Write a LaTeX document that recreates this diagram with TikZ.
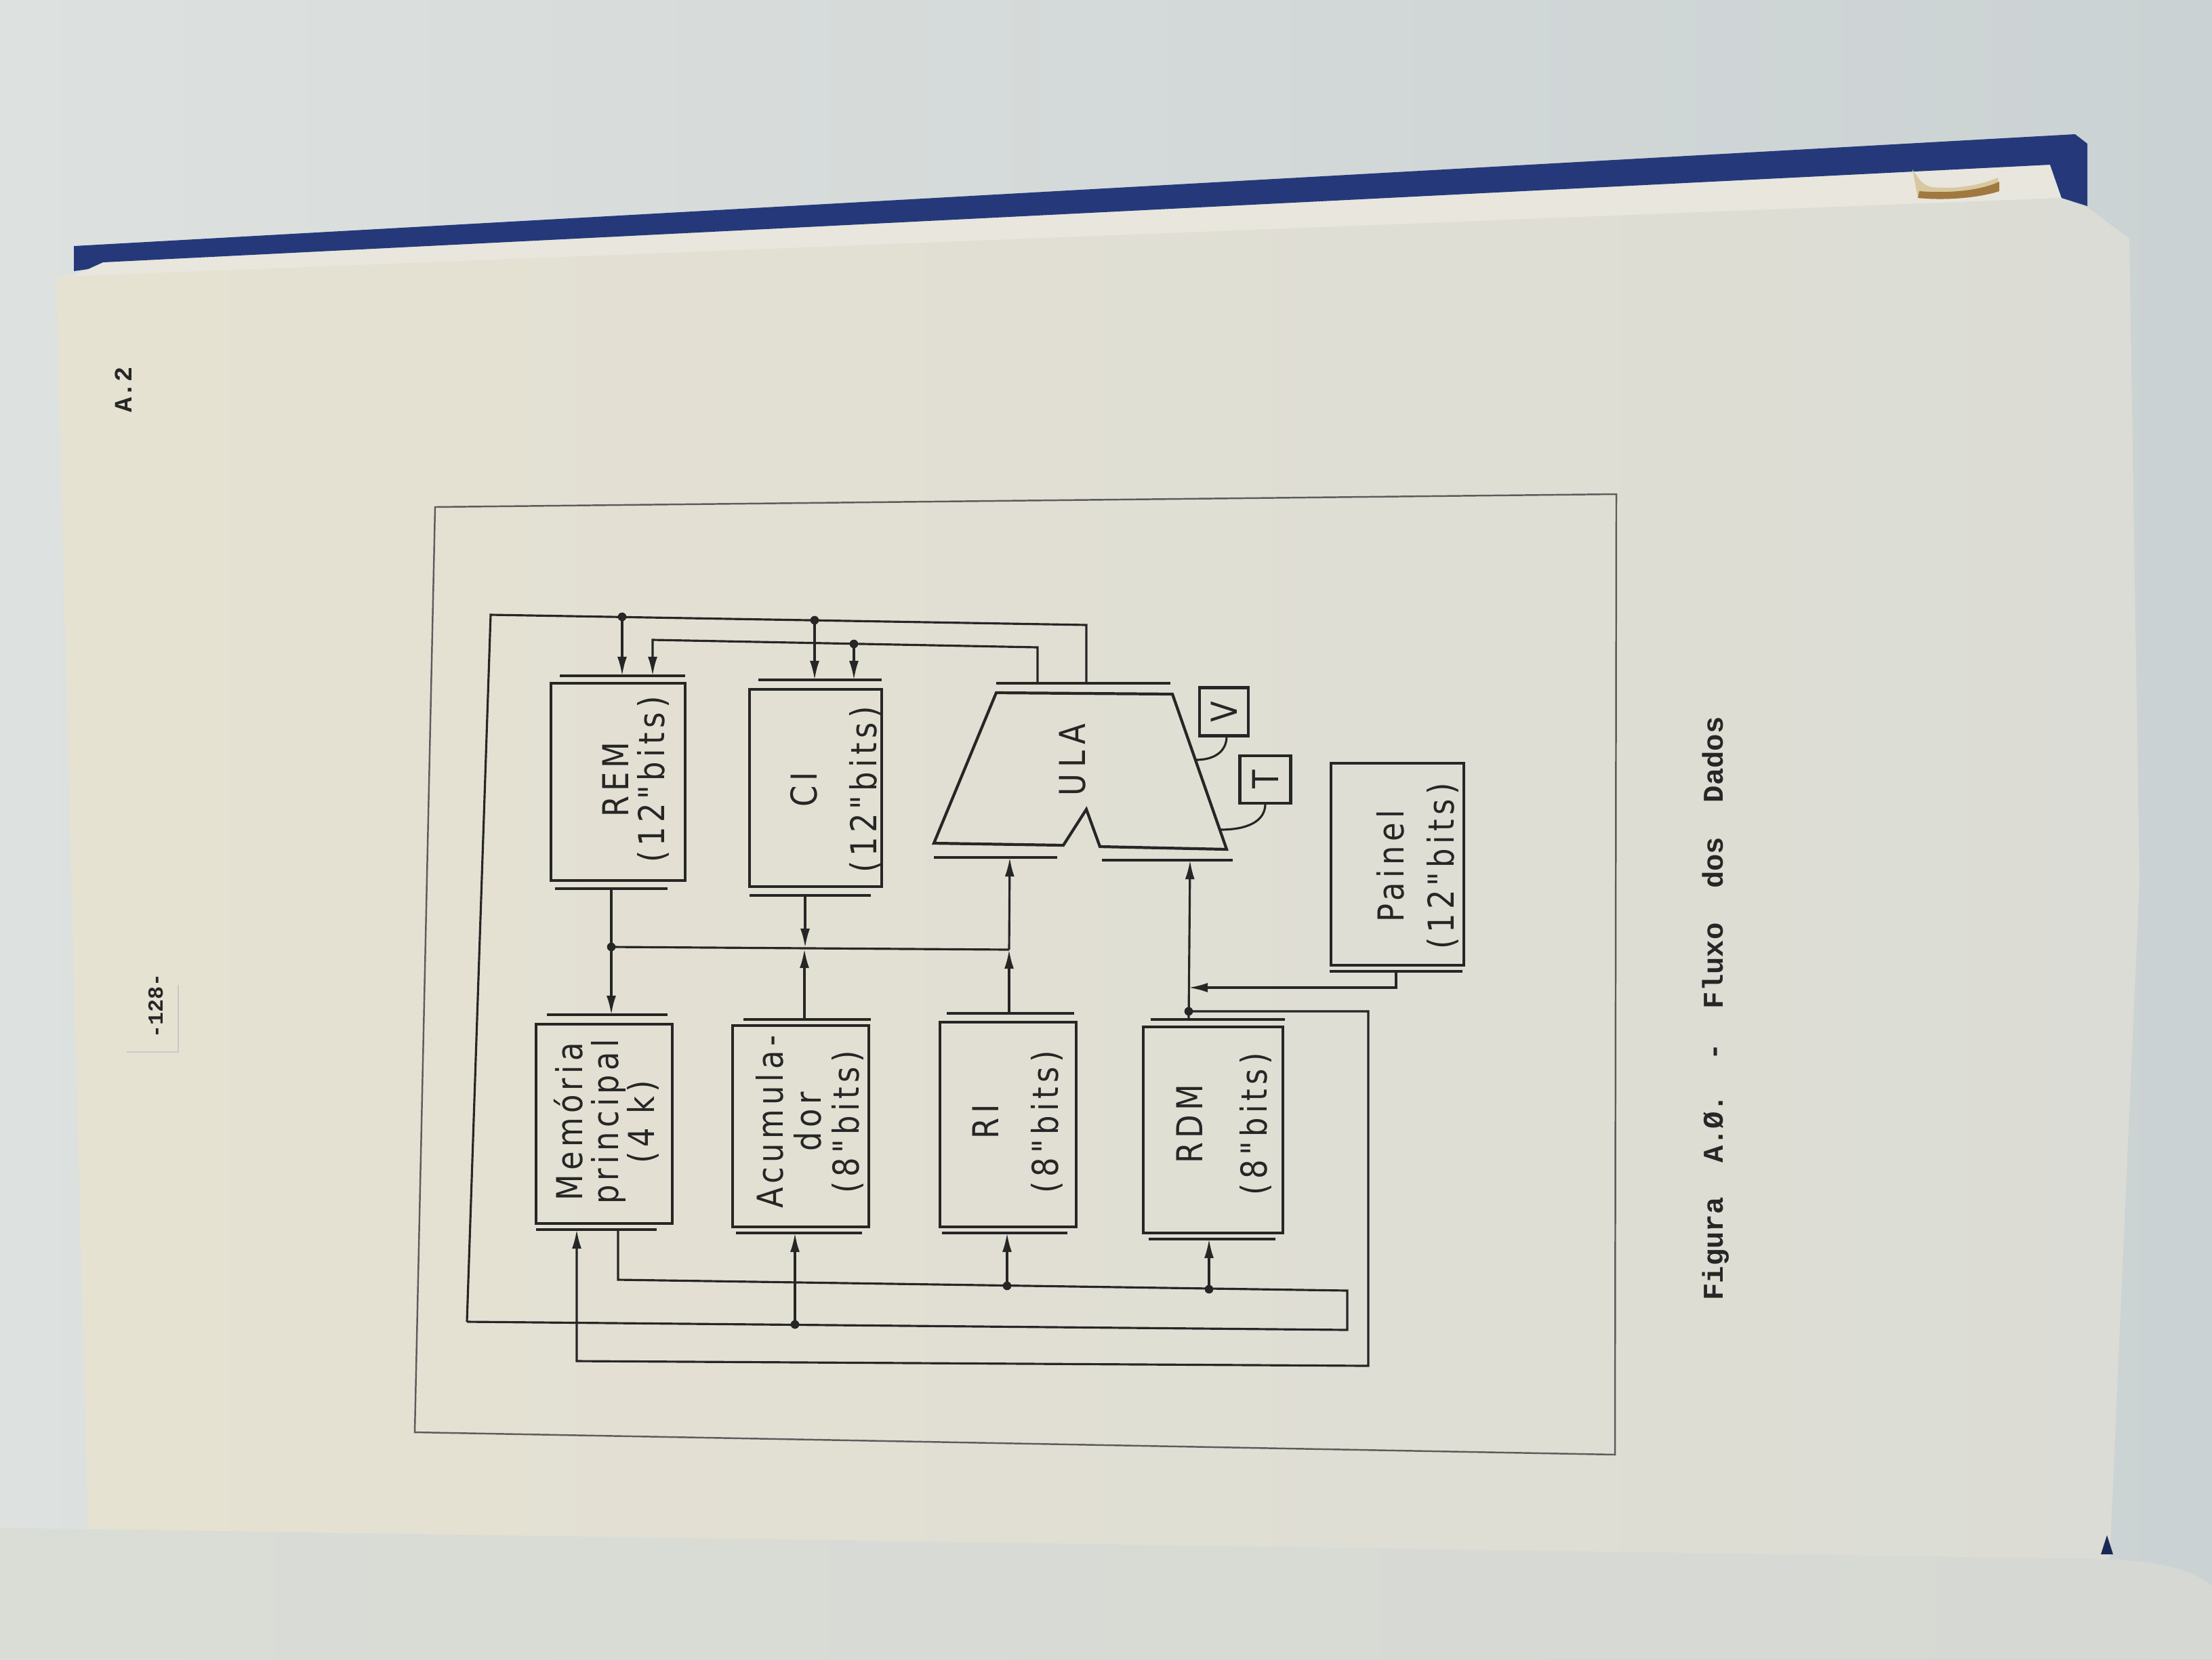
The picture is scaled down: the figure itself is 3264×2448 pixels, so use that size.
\documentclass[tikz,border=0pt]{standalone}
\usepackage{fontspec}
\usepackage{graphicx}
\usetikzlibrary{arrows.meta,fit,calc}
\newfontfamily\lbfont[FakeStretch=0.85,LetterSpace=12]{DejaVu Sans}
\newfontfamily\twfont{Liberation Mono}
\newcommand\lbfnt{\fontsize{15pt}{15pt}\lbfont}
\definecolor{ink}{HTML}{262626}
\definecolor{bgL}{HTML}{DDE1DF}
\definecolor{bgR}{HTML}{CBD2D3}
\definecolor{pageL}{HTML}{E6E2D2}
\definecolor{pageR}{HTML}{DBDCD5}
\definecolor{lowL}{HTML}{DADCD6}
\definecolor{lowR}{HTML}{D6D8D3}
\definecolor{cover}{HTML}{25397A}
\definecolor{stack}{HTML}{E8E6DD}
\definecolor{stain}{HTML}{A07840}
\definecolor{stainL}{HTML}{D8C8A0}
\begin{document}
\begin{tikzpicture}[x=0.01cm,y=-0.01cm,
  box/.style={draw=ink,line width=1.2pt,inner sep=0pt},
  bar/.style={draw=ink,line width=1.2pt},
  conn/.style={draw=ink,line width=0.9pt},
  arr/.style={conn,-{Latex[length=8pt,width=4pt]}},
  rarr/.style={conn,{Latex[length=8pt,width=4pt]}-},
  lbl/.style={rotate=90,align=center,text=ink,inner sep=0pt,font=\lbfnt},
  jdot/.style={circle,fill=ink,inner sep=0pt,minimum size=3.6pt},
  tw/.style={rotate=90,anchor=base,text=ink,inner sep=0pt},
  frame/.style={draw=ink!75,line width=0.7pt}
]
\useasboundingbox (0,0) rectangle (3264,2448);
% ---------- photo background ----------
\shade[left color=bgL,right color=bgR] (0,0) rectangle (3264,2448);
% main page
\shade[left color=pageL,right color=pageR]
  (83,413) -- (96,405) -- (3042,292) -- (3080,306) -- (3142,352) -- (3157,1300) -- (3113,2300) -- (130,2262) -- cycle;
% page stack band under the cover
\fill[stack] (100,410) -- (152,387) -- (3025,243) -- (3042,292) -- (96,408) -- cycle;
% blue cover edge
\fill[cover] (109,400) -- (109,363) -- (3062,198) -- (3080,212) -- (3080,304) -- (3042,292) -- (3025,243) -- (152,387) -- (130,397) -- cycle;
% stain / torn bit on top edge
\fill[stainL] (2822,250) .. controls (2832,265) and (2836,272) .. (2850,276) .. controls (2890,280) and (2925,272) .. (2948,262) -- (2950,282) .. controls (2920,292) and (2870,296) .. (2830,292) -- cycle;
\fill[stain] (2832,282) .. controls (2880,286) and (2925,280) .. (2950,268) -- (2950,282) .. controls (2920,292) and (2870,296) .. (2830,292) -- cycle;
% small dark corner at bottom right
\fill[cover!70!black] (3100,2293) -- (3109,2265) -- (3118,2293) -- cycle;
% lower (facing) page
\shade[left color=lowL,right color=lowR] (0,2254) -- (3100,2300) .. controls (3190,2302) and (3240,2318) .. (3264,2340) -- (3264,2448) -- (0,2448) -- cycle;

% ---------- page texts ----------
\node[tw,font=\twfont\bfseries\fontsize{10.5pt}{10.5pt}\selectfont] (pagenum) at (194,575) {A.2};
\node[tw,font=\twfont\bfseries\fontsize{9pt}{9pt}\selectfont] (folio) at (240,1484) {-128-};
\draw[ink!25,line width=0.5pt] (187,1552) -- (263,1552) -- (263,1453);
\node[tw,font=\twfont\bfseries\fontsize{12pt}{12pt}\selectfont] (caption) at (2542,1488) {Figura~~A.Ø.~~-~~Fluxo~~dos~~Dados};

% ---------- frame ----------
\draw[frame] (642,748) -- (2385,729) -- (2383,2146) -- (612,2113) -- cycle;

% ---------- boxes ----------
\node[box,fit={(813,1008)(1011,1299)}] (rem) {};
\node[box,fit={(1106,1017)(1301,1308)}] (ci) {};
\node[box,fit={(791,1511)(992,1805)}] (mem) {};
\node[box,fit={(1081,1513)(1282,1810)}] (acc) {};
\node[box,fit={(1387,1508)(1588,1810)}] (ri) {};
\node[box,fit={(1687,1515)(1893,1819)}] (rdm) {};
\node[box,fit={(1964,1126)(2160,1424)}] (painel) {};
\node[box,minimum width=0.72cm,minimum height=0.71cm,font=\lbfnt,text=ink] (V) at (1806,1050) {\rotatebox{90}{V}};
\node[box,minimum width=0.75cm,minimum height=0.70cm,font=\lbfnt,text=ink] (T) at (1867,1150) {\rotatebox{90}{T}};

% ULA shape
\coordinate (u1) at (1470,1022); \coordinate (u2) at (1730,1024);
\coordinate (u3) at (1810,1253); \coordinate (u4) at (1623,1249);
\coordinate (u5) at (1603,1194); \coordinate (u6) at (1569,1247);
\coordinate (u7) at (1378,1244);
\draw[box] (u1) -- (u2) -- (u3) -- (u4) -- (u5) -- (u6) -- (u7) -- cycle;

% register bars
\draw[bar] (826,997) -- (1011,997);   \draw[bar] (819,1311) -- (985,1311);
\draw[bar] (1119,1003) -- (1301,1003); \draw[bar] (1106,1321) -- (1285,1321);
\draw[bar] (1470,1008) -- (1727,1008);
\draw[bar] (1378,1265) -- (1560,1265); \draw[bar] (1626,1269) -- (1819,1269);
\draw[bar] (807,1497) -- (985,1497);   \draw[bar] (791,1814) -- (969,1814);
\draw[bar] (1097,1504) -- (1285,1504); \draw[bar] (1086,1819) -- (1272,1819);
\draw[bar] (1397,1495) -- (1585,1495); \draw[bar] (1390,1819) -- (1575,1819);
\draw[bar] (1698,1504) -- (1896,1504); \draw[bar] (1695,1828) -- (1882,1828);
\draw[bar] (1962,1433) -- (2158,1433);

% labels
\node[lbl] (remL) at (938,1150) {REM\\(12"bits)};
\node[lbl] (ciL) at (1233,1165) {CI\\[10pt](12"bits)};
\node[lbl] (ulaL) at (1583,1121) {U\,L\,A};
\node[lbl] (painelL) at (2092,1278) {Painel\\[6pt](12"bits)};
\node[lbl] (memL) at (895,1655) {Memória\\principal\\(4 k)};
\node[lbl] (accL) at (1195,1655) {Acumula-\\[1pt]dor\\[1pt](8"bits)};
\node[lbl] (riL) at (1502,1655) {RI\\[10pt](8"bits)};
\node[lbl] (rdmL) at (1806,1658) {RDM\\[12pt](8"bits)};

% V / T links to ULA
\draw[conn] (1810,1086) .. controls (1810,1110) and (1790,1121) .. (1765,1121);
\draw[conn] (1867,1186) .. controls (1867,1212) and (1840,1224) .. (1801,1224);

% ---------- connector coordinates ----------
\coordinate (tl) at (724,907);
\coordinate (tr) at (1603,922);
\coordinate (ulaIn1) at (1603,1008);
\coordinate (jREM) at (918,910);
\coordinate (jCI) at (1202,915);
\coordinate (remIn1) at (918,997);
\coordinate (ciIn1) at (1202,1003);
\coordinate (remIn2) at (963,997);
\coordinate (c2a) at (963,944);
\coordinate (c2b) at (1531,955);
\coordinate (ulaOut) at (1531,1008);
\coordinate (jCI2) at (1260,950);
\coordinate (ciIn2) at (1260,1003);
\coordinate (remOut) at (902,1311);
\coordinate (jBus) at (902,1397);
\coordinate (memIn1) at (902,1497);
\coordinate (busE) at (1489,1401);
\coordinate (ciOut) at (1188,1321);
\coordinate (ciBus) at (1188,1398);
\coordinate (accOut) at (1187,1504);
\coordinate (accBus) at (1187,1400);
\coordinate (riOut) at (1489,1495);
\coordinate (ulaIn2) at (1490,1265);
\coordinate (painelOut) at (2060,1433);
\coordinate (pa) at (2060,1457);
\coordinate (pb) at (1754,1457);
\coordinate (rdmOut) at (1754,1504);
\coordinate (ulaIn3) at (1756,1269);
\coordinate (jRDM) at (1754,1492);
\coordinate (ca) at (2019,1492);
\coordinate (cb) at (2019,2015);
\coordinate (cc) at (851,2008);
\coordinate (memIn2) at (851,1814);
\coordinate (memOut) at (912,1814);
\coordinate (aa) at (912,1888);
\coordinate (ab) at (1988,1904);
\coordinate (ac) at (1988,1962);
\coordinate (lb) at (689,1950);
\coordinate (jRI) at (1486,1897);
\coordinate (riIn) at (1486,1819);
\coordinate (jRDM2) at (1784,1902);
\coordinate (rdmIn) at (1784,1828);
\coordinate (jAcc) at (1173,1954);
\coordinate (accIn) at (1173,1819);

% ---------- connectors ----------
\draw[conn] (lb) -- (tl) -- (tr) -- (ulaIn1);
\draw[arr] (jREM) -- (remIn1);
\draw[arr] (jCI) -- (ciIn1);
\draw[rarr] (remIn2) -- (c2a) -- (c2b) -- (ulaOut);
\draw[arr] (jCI2) -- (ciIn2);
\draw[arr] (remOut) -- (memIn1);
\draw[conn] (jBus) -- (busE);
\draw[arr] (ciOut) -- (ciBus);
\draw[arr] (accOut) -- (accBus);
\draw[arr] (riOut) -- (busE);
\draw[arr] (busE) -- (ulaIn2);
\draw[arr] (painelOut) -- (pa) -- (pb);
\draw[arr] (rdmOut) -- (ulaIn3);
\draw[arr] (jRDM) -- (ca) -- (cb) -- (cc) -- (memIn2);
\draw[conn] (memOut) -- (aa) -- (ab) -- (ac) -- (lb);
\draw[arr] (jRI) -- (riIn);
\draw[arr] (jRDM2) -- (rdmIn);
\draw[arr] (jAcc) -- (accIn);
\foreach \p in {jREM,jCI,jCI2,jBus,jRDM,jRI,jRDM2,jAcc}
  \node[jdot] (d\p) at (\p) {};
\end{tikzpicture}
\end{document}
